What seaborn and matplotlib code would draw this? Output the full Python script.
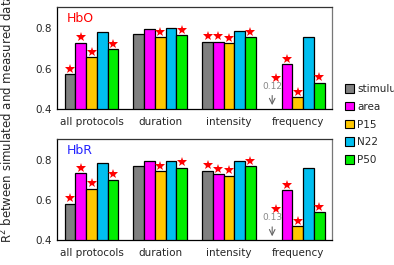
import pandas as pd
import matplotlib.pyplot as plt
import seaborn as sns
import numpy as np

sns.set_style('white')
plt.rcParams['font.family'] = ['DejaVu Sans']

protocols = ['all protocols', 'duration', 'intensity', 'frequency']
measures = ['stimulus', 'area', 'P15', 'N22', 'P50']
colors = ['#808080', '#ff00ff', '#ffc800', '#00bff0', '#00ee00']

# R2 values, rows = protocols, cols = measures
hbo = [[0.571, 0.727, 0.655, 0.782, 0.695],
       [0.770, 0.797, 0.754, 0.801, 0.764],
       [0.732, 0.732, 0.724, 0.784, 0.754],
       [0.12, 0.621, 0.458, 0.754, 0.530]]
hbr = [[0.581, 0.734, 0.658, 0.785, 0.701],
       [0.769, 0.794, 0.744, 0.798, 0.762],
       [0.746, 0.729, 0.721, 0.794, 0.769],
       [0.13, 0.650, 0.469, 0.762, 0.540]]
# significance stars
stars = [[1, 1, 1, 0, 1],
         [0, 0, 1, 0, 1],
         [1, 1, 1, 0, 1],
         [1, 1, 1, 0, 1]]
low_labels = ['0.12', '0.13']

fig = plt.figure(figsize=(3.94, 2.65), dpi=100)
ax1 = fig.add_axes([0.145, 0.589, 0.698, 0.385])
ax2 = fig.add_axes([0.145, 0.094, 0.698, 0.381])

for ax, vals, name, tcol, low in [(ax1, hbo, 'HbO', 'red', low_labels[0]),
                                  (ax2, hbr, 'HbR', '#2222ff', low_labels[1])]:
    df = pd.DataFrame([(p, m, vals[i][j]) for i, p in enumerate(protocols)
                       for j, m in enumerate(measures)],
                      columns=['protocol', 'measure', 'R2'])
    sns.barplot(data=df, x='protocol', y='R2', hue='measure', order=protocols,
                hue_order=measures, palette=colors, saturation=1, edgecolor='black',
                linewidth=0.9, width=0.78, ax=ax, legend=(ax is ax1))
    ax.set_ylim(0.4, 0.905)
    ax.set_xlim(-0.5, 3.5)
    ax.set_yticks([0.4, 0.6, 0.8])
    ax.set_yticklabels(['0.4', '0.6', '0.8'])
    ax.set_xlabel('')
    ax.set_ylabel('')
    ax.set_xticks([-0.5, 0.5, 1.5, 2.5, 3.5], minor=True)
    ax.tick_params(axis='x', which='major', length=0, labelsize=7.5, pad=6)
    ax.tick_params(axis='x', which='minor', length=3, width=0.8, direction='out')
    ax.tick_params(axis='y', length=3, width=0.8, direction='out', labelsize=7.5, pad=1)
    for s in ax.spines.values():
        s.set_linewidth(0.9)
        s.set_color('black')
    ax.spines['top'].set_color('#333333')
    ax.spines['right'].set_color('#777777')
    ax.text(0.035, 0.95, name, transform=ax.transAxes, color=tcol,
            fontsize=9, va='top', ha='left')
    # stars
    for j, cont in enumerate(ax.containers):
        for i, bar in enumerate(cont):
            if not stars[i][j]:
                continue
            xc = bar.get_x() + bar.get_width() / 2
            top = bar.get_height()
            if top < 0.4:
                top = 0.527  # bar off the axis, star above the value label
            ax.plot(xc, top + 0.028, marker='*', color='red', markersize=7,
                    markeredgewidth=0, clip_on=False)
    stim_bar = ax.containers[0][3]
    xs = stim_bar.get_x() + stim_bar.get_width() / 2 - 0.06
    ax.annotate('', xy=(xs, 0.405), xytext=(xs, 0.48),
                arrowprops=dict(arrowstyle='->', color='#666666', lw=0.8))
    ax.text(xs, 0.49, low, color='#888888', fontsize=6.5, ha='center', va='bottom')

leg = ax1.get_legend()
leg.remove()
handles = [plt.Rectangle((0, 0), 1, 1, facecolor=c, edgecolor='black', lw=0.8) for c in colors]
fig.legend(handles, measures, loc='center left', bbox_to_anchor=(0.862, 0.53),
           frameon=False, fontsize=7.5, handlelength=0.9, handleheight=0.9,
           handletextpad=0.3, labelspacing=0.75, borderpad=0)

fig.text(0.018, 0.555, 'R$^2$ between simulated and measured data', rotation=90,
         ha='center', va='center', fontsize=8.5)

fig.savefig('out.png', dpi=100)
